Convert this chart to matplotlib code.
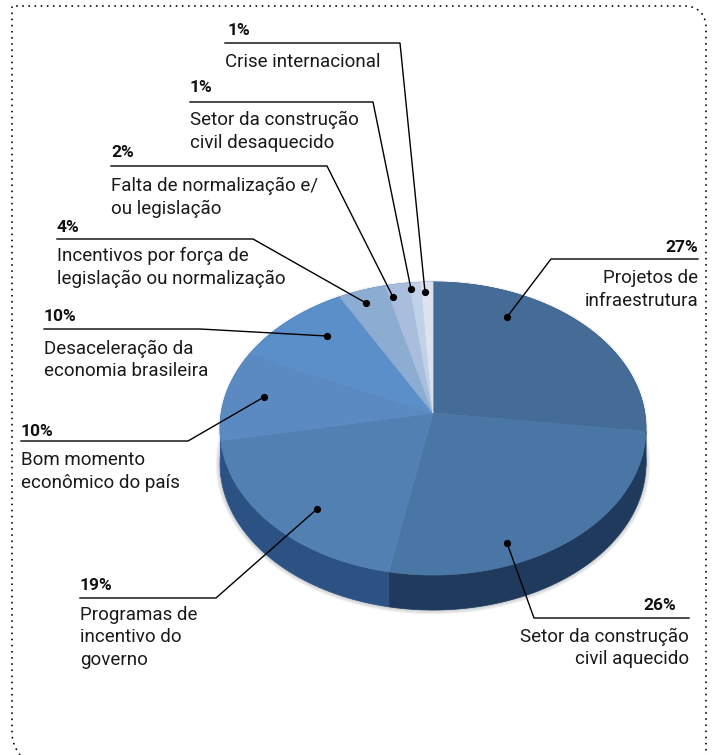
import numpy as np
import matplotlib
matplotlib.use("Agg")
import matplotlib.pyplot as plt
from matplotlib.path import Path
from matplotlib.patches import PathPatch

# Datos del grafico
valores = [27, 26, 19, 10, 10, 4, 2, 1, 1]
porcentajes = ["27%", "26%", "19%", "10%", "10%", "4%", "2%", "1%", "1%"]
etiquetas = [
    "Projetos de\ninfraestrutura",
    "Setor da construção\ncivil aquecido",
    "Programas de\nincentivo do\ngoverno",
    "Bom momento\neconômico do país",
    "Desaceleração da\neconomia brasileira",
    "Incentivos por força de\nlegislação ou normalização",
    "Falta de normalização e/\nou legislação",
    "Setor da construção\ncivil desaquecido",
    "Crise internacional",
]
colores = ["#456B97", "#4A76A5", "#5380B3", "#5A8AC1", "#5B8FC9",
           "#8DACD2", "#A9BEDC", "#C0D1E8", "#DCE3EF"]
colores_lado = ["#2C5079", "#1F3A5C", "#2C5283", "#2F5C92", "#2F5C92",
                "#2F5C92", "#2F5C92", "#2F5C92", "#2F5C92"]

# Geometria de la torta en pixeles (perspectiva)
CX, CY = 433, 413
A, B, K = 211.8, 144.9, 0.1058
DEPTH = 35

# x, y de la linea horizontal, codo y punto final; alineacion del texto
lineas = [
    (551, 698, 259, 551, 507, 317, "right"),
    (534, 689, 618, 534, 507, 543, "right"),
    (80, 216, 598, 216, 317, 509, "left"),
    (21, 188, 441, 188, 264, 397, "left"),
    (44, 200, 329, 200, 327, 336, "left"),
    (57, 253, 239, 253, 366, 303, "left"),
    (111, 327, 166, 327, 393, 297, "left"),
    (190, 373, 102, 373, 411, 289, "left"),
    (225, 400, 43, 400, 425, 292, "left"),
]
base_pct = [252, 610, 590, 436, 321, 232, 157, 92, 35]
base_txt = [283, 642, 620, 465, 354, 261, 191, 125, 67]
ajuste_pct = [0, -13, 0, 0, 0, 0, 0, 0, 3]


def proyectar(theta):
    # theta en sentido horario desde arriba
    u = np.sin(theta)
    v = np.cos(theta)
    w = 1 + K * v
    return CX + A * u / w, CY - B * v / w


plt.rcParams["font.family"] = ["Roboto", "DejaVu Sans"]

fig = plt.figure(figsize=(7.12, 7.55), dpi=100)
ax = fig.add_axes([0, 0, 1, 1])
ax.set_xlim(0, 712)
ax.set_ylim(755, 0)
ax.axis("off")

# Borde punteado
verts = [(706, 760), (706, 28), (706, 14), (698, 6), (684, 6), (12, 6), (12, 735), (13, 746), (20, 755)]
codes = [Path.MOVETO, Path.LINETO, Path.CURVE4, Path.CURVE4, Path.CURVE4, Path.LINETO, Path.LINETO,
         Path.CURVE3, Path.CURVE3]
ax.add_patch(PathPatch(Path(verts, codes), fill=False, ec="black", lw=1.3,
                       ls=(0, (0.1, 3.3)), capstyle="round", zorder=1))

limites = 2 * np.pi * np.cumsum([0] + valores) / sum(valores)

# Sombra difusa alrededor de la torta
t = np.linspace(0, 2 * np.pi, 400)
xb, yb = proyectar(t)
for lw in [6, 4, 2]:
    ax.plot(xb, yb + DEPTH, color="#5a6069", alpha=0.10, lw=lw, zorder=2)
ax.plot(xb, yb, color="#b9c4d2", alpha=0.18, lw=3, zorder=2)

# Lado de la torta
for i in range(len(valores)):
    ts = np.linspace(limites[i], limites[i + 1], max(valores[i] * 4, 3))
    xs, ys = proyectar(ts)
    ax.fill(np.r_[xs, xs[::-1]], np.r_[ys, ys[::-1] + DEPTH], color=colores_lado[i], lw=0.5, zorder=3)

# Caras de la torta
for i in range(len(valores)):
    ts = np.linspace(limites[i], limites[i + 1], max(valores[i] * 4, 8))
    xs, ys = proyectar(ts)
    ax.fill(np.r_[CX, xs], np.r_[CY, ys], color=colores[i], lw=0.5, zorder=4)

# Lineas y textos
for i in range(len(valores)):
    x0, x1, yh, xc, xp, yp, ha = lineas[i]
    if ha == "right":
        ax.plot([xp, x0, x1], [yp, yh, yh], color="black", lw=1, zorder=5)
        xt = x1
    else:
        ax.plot([x0, x1, xp], [yh, yh, yp], color="black", lw=1, zorder=5)
        xt = x0
    ax.plot(xp, yp, "o", color="black", ms=4.2, zorder=6)
    ax.text(xt + ajuste_pct[i], base_pct[i], porcentajes[i], fontsize=12.5, fontweight="bold",
            ha=ha, va="baseline", color="#111111", zorder=7)
    for j, linea in enumerate(etiquetas[i].split("\n")):
        ax.text(xt, base_txt[i] + j * 22.5, linea, fontsize=13.5, ha=ha, va="baseline",
                color="#1a1a1a", zorder=7)

fig.savefig("out.png", dpi=100, facecolor="white")
